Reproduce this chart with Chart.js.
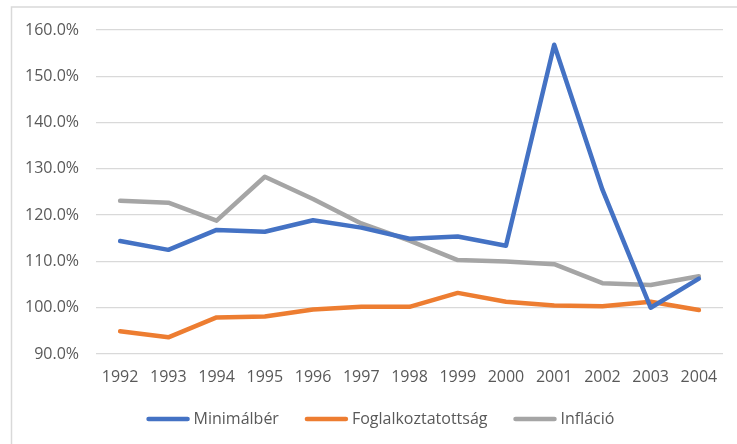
<!DOCTYPE html>
<html>
<head>
<meta charset="utf-8">
<script src="https://cdn.jsdelivr.net/npm/chart.js@4"></script>
<style>
  html, body { margin: 0; padding: 0; background: #fff; }
  canvas { display: block; }
</style>
</head>
<body>
<canvas id="myChart" width="737" height="444"></canvas>
<script>
const years = ['1992', '1993', '1994', '1995', '1996', '1997', '1998', '1999', '2000', '2001', '2002', '2003', '2004'];
const minimalber = [114.4, 112.5, 116.8, 116.4, 118.9, 117.3, 114.9, 115.4, 113.4, 156.8, 125.5, 100.0, 106.3];
const foglalkoztatottsag = [94.9, 93.6, 97.9, 98.1, 99.6, 100.2, 100.2, 103.2, 101.3, 100.5, 100.3, 101.3, 99.5];
const inflacio = [123.1, 122.7, 118.8, 128.3, 123.5, 118.2, 114.5, 110.3, 110.0, 109.4, 105.3, 104.9, 106.8];
const seriesNames = ['Minimálbér', 'Foglalkoztatottság', 'Infláció'];
const colors = ['#4472C4', '#ED7D31', '#A5A5A5'];

const FONT = '"Open Sans", sans-serif';
const TEXT = '#595959';

// frame + white background
const frame = {
  id: 'frame',
  beforeDraw(chart) {
    const c = chart.ctx;
    c.save();
    c.fillStyle = '#fff';
    c.fillRect(0, 0, chart.width, chart.height);
    c.strokeStyle = '#D9D9D9';
    c.lineWidth = 1.5;
    c.strokeRect(11.5, 7, 800, 800);
    c.restore();
  }
};

// excel style legend at the bottom
const bottomLegend = {
  id: 'bottomLegend',
  afterDraw(chart) {
    const c = chart.ctx;
    const line = 43, gap = 4, spacing = 26, y = 419;
    c.save();
    c.font = '16px ' + FONT;
    c.textBaseline = 'middle';
    const items = chart.data.datasets.map(ds => ({ ds, w: line + gap + c.measureText(ds.label).width }));
    const total = items.reduce((s, it) => s + it.w, 0) + spacing * (items.length - 1);
    let x = 380.5 - total / 2;
    items.forEach(it => {
      c.strokeStyle = it.ds.borderColor;
      c.lineWidth = 4.5;
      c.lineCap = 'round';
      c.beginPath();
      c.moveTo(x + 2, y);
      c.lineTo(x + line - 2, y);
      c.stroke();
      c.fillStyle = TEXT;
      c.fillText(it.ds.label, x + line + gap, y);
      x += it.w + spacing;
    });
    c.restore();
  }
};

const data = {
  labels: years,
  datasets: [minimalber, foglalkoztatottsag, inflacio].map((vals, i) => ({
    label: seriesNames[i],
    data: vals,
    borderColor: colors[i],
    backgroundColor: colors[i],
    borderWidth: 4.5,
    pointRadius: 0,
    tension: 0,
    borderCapStyle: 'round',
    borderJoinStyle: 'round'
  }))
};

const chart = new Chart(document.getElementById('myChart').getContext('2d'), {
  type: 'line',
  data: data,
  options: {
    responsive: false,
    animation: false,
    layout: { padding: { top: 30, right: 14, left: 0, bottom: 50 } },
    plugins: {
      legend: { display: false },
      tooltip: { enabled: false }
    },
    scales: {
      x: {
        offset: true,
        grid: { display: false, drawTicks: false },
        border: { display: false },
        ticks: { color: TEXT, font: { family: FONT, size: 16 }, padding: 14, maxRotation: 0 },
        afterFit: (s) => { s.height = 40; }
      },
      y: {
        min: 90,
        max: 160,
        grid: { color: '#D9D9D9', lineWidth: 1.3, drawTicks: false },
        border: { display: false },
        ticks: {
          stepSize: 10,
          color: TEXT,
          font: { family: FONT, size: 16 },
          padding: 17,
          callback: v => v.toFixed(1) + '%'
        },
        afterFit: (s) => { s.width = 96; }
      }
    }
  },
  plugins: [frame, bottomLegend]
});
</script>
</body>
</html>
